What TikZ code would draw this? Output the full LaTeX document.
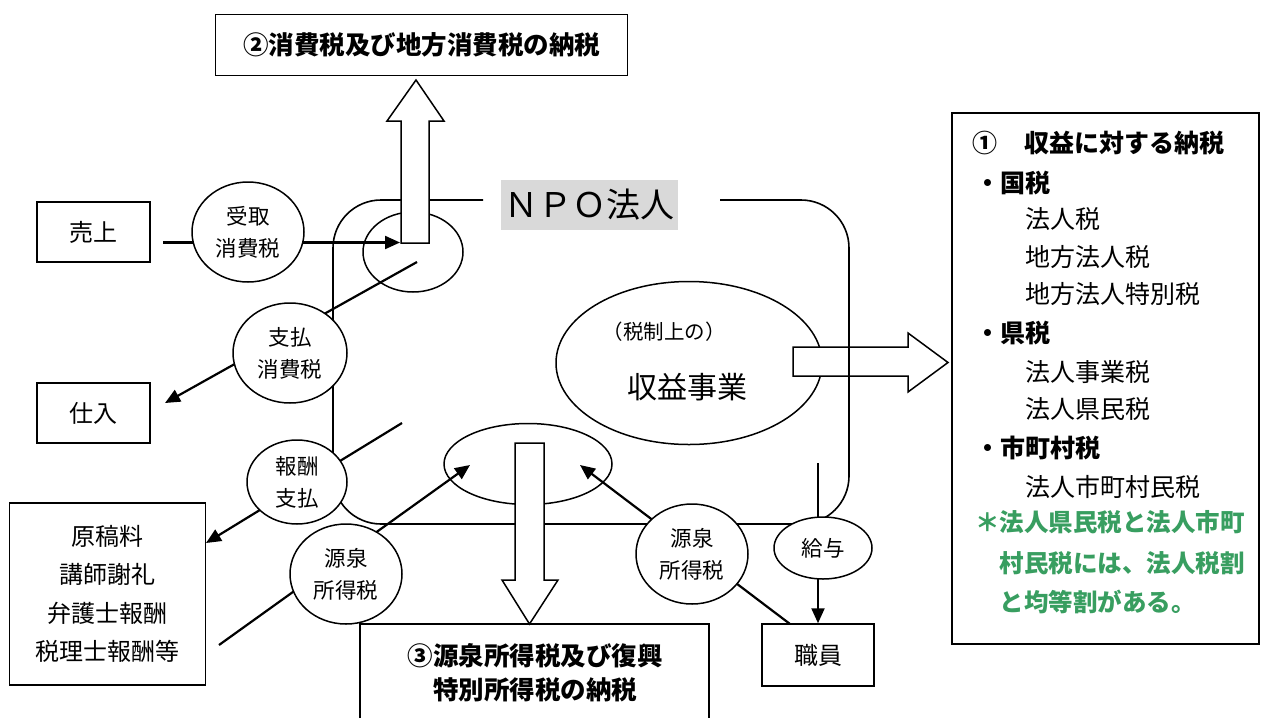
\documentclass[tikz,border=0pt]{standalone}
\usepackage{fontspec}
\setmainfont{Noto Sans CJK JP}
\usetikzlibrary{arrows.meta,shapes.geometric,backgrounds}
\definecolor{npogray}{RGB}{217,217,217}
\definecolor{notegreen}{RGB}{56,158,96}
\tikzset{
  box/.style={draw,line width=1.5pt,fill=white,inner sep=0pt,font=\fontsize{24}{30}\selectfont},
  lbl/.style={draw,ellipse,line width=1.5pt,fill=white,inner sep=0pt,align=center,font=\fontsize{21.5}{32}\selectfont},
  ring/.style={draw,ellipse,line width=1.5pt,inner sep=0pt},
  conn/.style={line width=2.2pt},
  tip/.style={-{Triangle[length=15pt,width=13pt]}},
  blockarrow/.style={draw,line width=1.5pt,fill=white,line join=miter},
  frame/.style={draw,line width=1.6pt},
  rt/.style={anchor=base west,inner sep=0pt,font=\fontsize{25}{25}\selectfont},
  rtb/.style={anchor=base west,inner sep=0pt,font=\fontsize{25}{25}\selectfont\bfseries},
  rtg/.style={anchor=base west,inner sep=0pt,text=notegreen,font=\fontsize{24.5}{25}\selectfont\bfseries},
}
\begin{document}
\begin{tikzpicture}[x=1pt,y=-1pt]
\useasboundingbox (0,0) rectangle (1263,718);

% big ellipse (business)
\node[ring,minimum width=266,minimum height=163] (biz) at (689,363) {};
% right block arrow
\path[blockarrow] (793,347) -- (908,347) -- (908,333) -- (948,362.5) -- (908,392) -- (908,376) -- (793,376) -- cycle;
% NPO rounded frame
\path[frame,rounded corners=48] (483,200) -- (333,200) -- (333,524) -- (849,524) -- (849,200) -- (720,200);
% collecting ellipses
\node[ring,minimum width=100,minimum height=80] (cc) at (413,252) {};
\node[ring,minimum width=168,minimum height=81] (wc) at (528,464) {};

% label ellipses
\node[lbl,minimum width=112,minimum height=100] (uketori) at (248,232) {受取\\消費税};
\node[lbl,minimum width=114,minimum height=100] (shiharai) at (290,353) {支払\\消費税};
\node[lbl,minimum width=100,minimum height=84] (hoshu) at (297,482) {報酬\\支払};
\node[lbl,minimum width=112,minimum height=100] (gensenL) at (346,574) {源泉\\所得税};
\node[lbl,minimum width=112,minimum height=100] (gensenR) at (692,554) {源泉\\所得税};
\node[lbl,minimum width=98,minimum height=62] (kyuyo) at (823,548) {給与};

% boxes
\node[box,minimum width=113,minimum height=60] (uri) at (93.5,232) {売上};
\node[box,minimum width=113,minimum height=60] (shiire) at (93.5,413) {仕入};
\node[box,minimum width=196,minimum height=182,align=center,font=\fontsize{24}{38.3}\selectfont] (genko) at (107.5,594) {原稿料\\講師謝礼\\弁護士報酬\\税理士報酬等};
\node[box,minimum width=112,minimum height=62] (shokuin) at (818,655) {職員};
\node[box,minimum width=412,minimum height=61,font=\fontsize{25.5}{30}\selectfont\bfseries] (tax2) at (421.5,45) {②消費税及び地方消費税の納税};
\node[box,minimum width=307,minimum height=531] (tax1) at (1105.5,378.5) {};

% box 3 (open at the bottom)
\path[frame,line width=1.5pt] (360,718) -- (360,624) -- (709,624) -- (709,718);
\node[align=center,inner sep=0pt,font=\fontsize{25.5}{34}\selectfont\bfseries] (tax3) at (535,673) {③源泉所得税及び復興\\特別所得税の納税};

% up and down block arrows
\path[blockarrow] (401,243) -- (401,121) -- (387,121) -- (416,80) -- (444,121) -- (429,121) -- (429,243) -- cycle;
\path[blockarrow] (515,443) -- (515,580) -- (502,580) -- (529.5,624) -- (558,580) -- (544,580) -- (544,443) -- cycle;

% NPO label
\node[fill=npogray,minimum width=177,minimum height=50,inner sep=0pt,font=\fontsize{34}{34}\selectfont] (npo) at (589.5,205) {ＮＰＯ法人};

% business texts
\node[inner sep=0pt,font=\fontsize{20.5}{20}\selectfont] (biztop) at (664,332) {（税制上の）};
\node[inner sep=0pt,font=\fontsize{30}{30}\selectfont] (bizmain) at (687,387) {収益事業};

% right box texts
\node[rtb] (r1) at (972,152.5) {①\hspace{27pt}収益に対する納税};
\node[rtb] (r2) at (975,192.5) {・国税};
\node[rt] (r3) at (975,228.5) {　　法人税};
\node[rt] (r4) at (975,266.5) {　　地方法人税};
\node[rt] (r5) at (975,303.5) {　　地方法人特別税};
\node[rtb] (r6) at (975,342.5) {・県税};
\node[rt] (r7) at (975,381.5) {　　法人事業税};
\node[rt] (r8) at (975,418.5) {　　法人県民税};
\node[rtb] (r9) at (975,457.5) {・市町村税};
\node[rt] (r10) at (975,496.5) {　　法人市町村民税};
\node[rtg] (g1) at (975,531.5) {＊法人県民税と法人市町};
\node[rtg] (g2) at (975,572.5) {　村民税には、法人税割};
\node[rtg] (g3) at (975,611.5) {　と均等割がある。};

% connectors (behind everything)
\begin{pgfonlayer}{background}
\coordinate (a0) at (163,242.5);
\coordinate (a1) at (400,242.5);
\draw[conn,tip] (a0) -- (a1);
\coordinate (s0) at (417,262);
\coordinate (s1) at (165,403);
\draw[conn,tip] (s0) -- (s1);
\coordinate (h0) at (402,423);
\coordinate (h1) at (206,543);
\draw[conn,tip] (h0) -- (h1);
\coordinate (gl0) at (219,645);
\coordinate (gl1) at (470,465);
\draw[conn,tip] (gl0) -- (gl1);
\coordinate (gr0) at (790,624);
\coordinate (gr1) at (580,465);
\draw[conn,tip] (gr0) -- (gr1);
\coordinate (k0) at (818,463);
\draw[conn,tip] (k0) -- (shokuin.north);
\end{pgfonlayer}
\end{tikzpicture}
\end{document}
